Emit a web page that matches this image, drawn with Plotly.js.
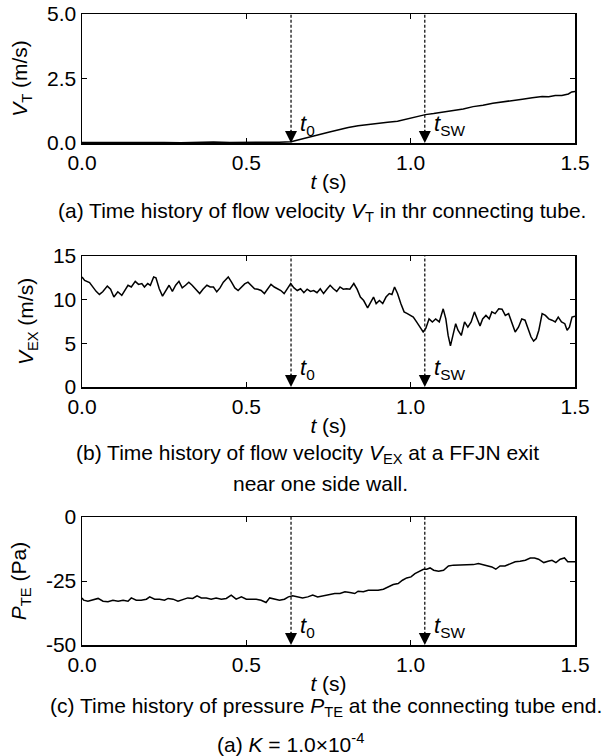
<!DOCTYPE html>
<html>
<head>
<meta charset="utf-8">
<script src="https://cdn.plot.ly/plotly-3.0.1.min.js"></script>
<style>html,body{margin:0;padding:0;background:#fff;}#chart{width:604px;height:756px;}</style>
</head>
<body>
<div id="chart"></div>
<script>
// ---------- data ----------
const tAxisTicks = [0, 0.5, 1.0, 1.5];
const tAxisLabels = ['0.0', '0.5', '1.0', '1.5'];
const t0 = 0.636;
const tSW = 1.043;

// (a) V_T in connecting tube
const tVT = [0, 0.05, 0.1, 0.15, 0.2, 0.25, 0.3, 0.35, 0.4, 0.45, 0.5, 0.55, 0.6, 0.636, 0.66, 0.69, 0.72, 0.75, 0.78, 0.81, 0.84, 0.87, 0.9, 0.93, 0.96, 0.99, 1.02, 1.045, 1.07, 1.1, 1.13, 1.16, 1.19, 1.22, 1.25, 1.28, 1.31, 1.34, 1.37, 1.4, 1.42, 1.44, 1.46, 1.48, 1.49, 1.5];
const vT  = [0.02, 0.02, 0.02, 0.02, 0.04, 0.02, 0.01, 0.02, 0.04, 0.02, 0.02, 0.02, 0.03, 0.05, 0.12, 0.22, 0.32, 0.42, 0.52, 0.6, 0.67, 0.72, 0.77, 0.8, 0.84, 0.93, 1.02, 1.1, 1.14, 1.2, 1.27, 1.32, 1.41, 1.46, 1.54, 1.6, 1.66, 1.7, 1.75, 1.8, 1.79, 1.84, 1.84, 1.9, 1.98, 2.0];
const vTTicks = [0, 2.5, 5];
const vTLabels = ['0.0', '2.5', '5.0'];

// (b) V_EX at FFJN exit
const tVEX = [0.000, 0.008, 0.023, 0.033, 0.043, 0.053, 0.063, 0.077, 0.087, 0.097, 0.109, 0.121, 0.129, 0.140, 0.150, 0.162, 0.172, 0.182, 0.190, 0.200, 0.208, 0.218, 0.225, 0.235, 0.245, 0.255, 0.265, 0.275, 0.285, 0.295, 0.305, 0.315, 0.325, 0.335, 0.345, 0.358, 0.368, 0.380, 0.390, 0.400, 0.410, 0.420, 0.430, 0.445, 0.455, 0.465, 0.475, 0.485, 0.495, 0.505, 0.515, 0.525, 0.535, 0.545, 0.555, 0.565, 0.575, 0.585, 0.595, 0.605, 0.615, 0.625, 0.635, 0.645, 0.655, 0.665, 0.675, 0.685, 0.695, 0.705, 0.715, 0.725, 0.735, 0.745, 0.755, 0.765, 0.775, 0.785, 0.795, 0.805, 0.815, 0.827, 0.837, 0.847, 0.857, 0.869, 0.879, 0.887, 0.895, 0.905, 0.915, 0.925, 0.935, 0.943, 0.951, 0.960, 0.970, 0.980, 0.990, 1.000, 1.008, 1.018, 1.028, 1.038, 1.046, 1.056, 1.066, 1.076, 1.087, 1.099, 1.107, 1.114, 1.121, 1.129, 1.137, 1.144, 1.154, 1.164, 1.174, 1.184, 1.194, 1.204, 1.211, 1.219, 1.229, 1.239, 1.247, 1.257, 1.268, 1.278, 1.288, 1.298, 1.308, 1.318, 1.328, 1.338, 1.348, 1.358, 1.366, 1.374, 1.382, 1.390, 1.400, 1.410, 1.420, 1.430, 1.440, 1.449, 1.459, 1.469, 1.476, 1.483, 1.491, 1.500];
const vEX  = [12.6, 12.2, 11.95, 11.45, 10.95, 10.6, 10.9, 11.55, 11.2, 10.3, 10.9, 10.5, 10.95, 11.65, 11.45, 12.1, 11.75, 11.85, 11.45, 11.85, 11.65, 12.6, 12.5, 11.25, 10.4, 11.05, 11.65, 10.95, 11.65, 12.1, 11.35, 11.65, 12.0, 11.65, 11.2, 10.7, 11.2, 11.65, 11.45, 11.45, 10.9, 11.35, 12.0, 12.6, 12.0, 11.35, 11.05, 11.45, 11.8, 12.0, 11.65, 11.25, 11.2, 11.05, 10.7, 11.2, 11.75, 11.45, 11.25, 11.05, 10.7, 11.25, 11.85, 11.35, 11.05, 11.25, 10.8, 11.2, 10.95, 11.05, 10.8, 11.25, 10.7, 11.2, 11.65, 11.25, 10.95, 11.45, 11.2, 11.25, 11.2, 11.85, 11.2, 10.3, 9.9, 9.05, 9.75, 10.3, 9.55, 9.9, 9.55, 10.3, 10.7, 10.6, 11.45, 10.7, 9.55, 8.6, 8.4, 8.15, 8.0, 7.45, 6.85, 6.3, 6.7, 7.8, 7.45, 7.8, 7.45, 8.95, 7.8, 5.9, 4.7, 5.9, 7.25, 6.5, 5.9, 7.45, 6.85, 7.45, 8.6, 7.65, 7.0, 7.8, 8.2, 7.8, 8.6, 8.4, 8.95, 8.9, 8.2, 8.4, 7.45, 6.3, 6.85, 7.8, 7.65, 6.7, 5.75, 5.25, 5.55, 6.5, 8.4, 8.2, 7.8, 7.65, 7.45, 8.0, 7.45, 7.25, 6.5, 6.85, 8.0, 8.1];
const vEXTicks = [0, 5, 10, 15];
const vEXLabels = ['0', '5', '10', '15'];

// (c) P_TE at connecting tube end
const tPTE = [0.000, 0.005, 0.018, 0.033, 0.049, 0.064, 0.079, 0.094, 0.110, 0.125, 0.140, 0.150, 0.165, 0.180, 0.196, 0.206, 0.221, 0.236, 0.251, 0.262, 0.277, 0.292, 0.307, 0.322, 0.337, 0.350, 0.363, 0.378, 0.393, 0.408, 0.424, 0.439, 0.454, 0.469, 0.485, 0.500, 0.515, 0.530, 0.545, 0.560, 0.571, 0.586, 0.601, 0.616, 0.628, 0.641, 0.656, 0.671, 0.687, 0.702, 0.717, 0.732, 0.746, 0.754, 0.769, 0.785, 0.800, 0.815, 0.830, 0.840, 0.856, 0.871, 0.886, 0.901, 0.917, 0.932, 0.947, 0.962, 0.975, 0.988, 1.001, 1.013, 1.026, 1.039, 1.049, 1.059, 1.070, 1.085, 1.100, 1.115, 1.130, 1.146, 1.161, 1.176, 1.191, 1.206, 1.222, 1.237, 1.247, 1.259, 1.272, 1.287, 1.303, 1.318, 1.333, 1.349, 1.364, 1.377, 1.389, 1.405, 1.418, 1.430, 1.442, 1.455, 1.468, 1.478, 1.488, 1.500];
const pTE  = [-31.6, -32.5, -32.9, -32.5, -31.8, -32.9, -33.1, -32.5, -32.9, -32.5, -32.9, -31.6, -32.5, -32.5, -32.1, -31.2, -32.1, -32.1, -32.5, -31.8, -32.1, -32.9, -32.1, -31.6, -31.8, -30.8, -31.6, -31.6, -32.1, -31.6, -32.1, -31.8, -30.5, -32.1, -31.2, -32.1, -32.1, -32.1, -32.5, -33.4, -31.6, -32.1, -32.5, -32.1, -31.2, -30.8, -31.2, -31.6, -31.2, -30.5, -31.2, -30.8, -30.5, -30.3, -29.9, -29.9, -29.2, -29.5, -29.9, -29.0, -29.2, -28.6, -28.6, -28.6, -28.2, -27.3, -26.4, -26.0, -24.7, -23.8, -23.4, -22.1, -21.2, -20.4, -20.4, -19.9, -20.8, -21.2, -20.8, -19.1, -18.8, -18.8, -18.6, -18.8, -18.6, -18.2, -18.8, -19.1, -19.5, -20.4, -19.1, -19.1, -18.2, -17.5, -17.3, -16.9, -16.0, -16.0, -16.5, -17.8, -17.3, -16.9, -17.8, -16.5, -16.0, -17.5, -17.5, -17.5];
const pTETicks = [-50, -25, 0];
const pTELabels = ['-50', '-25', '0'];

// ---------- layout helpers ----------
const FONT = 'Arial, "Liberation Sans", sans-serif';
const W = 604, H = 756, ML = 82, MR = 29, MT = 14, MB = 111;
const PH = H - MT - MB, PW = W - ML - MR;
const py = p => (H - MB - p) / PH;   // pixel row -> paper y
const px = p => (p - ML) / PW;        // pixel column -> paper x

function xAxis(anchor) {
  return {
    anchor: anchor, range: [0, 1.5], tickvals: tAxisTicks, ticktext: tAxisLabels,
    ticks: 'inside', ticklen: 5, tickwidth: 1, tickcolor: '#000',
    showline: true, linecolor: '#000', linewidth: 1.5, mirror: 'ticks',
    showgrid: false, zeroline: false, fixedrange: true,
    tickfont: {family: FONT, size: 21, color: '#000'},
    title: {text: '<i>t</i> (s)', font: {family: FONT, size: 21, color: '#000'}, standoff: 1}
  };
}
function yAxis(anchor, domain, range, vals, labels, title) {
  return {
    anchor: anchor, domain: domain, range: range, tickvals: vals, ticktext: labels,
    ticks: 'inside', ticklen: 5, tickwidth: 1, tickcolor: '#000',
    showline: true, linecolor: '#000', linewidth: 1.5, mirror: 'ticks',
    showgrid: false, zeroline: false, fixedrange: true,
    tickfont: {family: FONT, size: 21, color: '#000'},
    title: {text: title, font: {family: FONT, size: 21, color: '#000'}, standoff: 13}
  };
}

const line = {color: '#000', width: 1.5};
const traces = [
  {x: tVT, y: vT, xaxis: 'x', yaxis: 'y', mode: 'lines', line: line, showlegend: false},
  {x: tVEX, y: vEX, xaxis: 'x2', yaxis: 'y2', mode: 'lines', line: line, showlegend: false},
  {x: tPTE, y: pTE, xaxis: 'x3', yaxis: 'y3', mode: 'lines', line: line, showlegend: false}
];

const panels = [
  {xr: 'x', yr: 'y', ymin: 0},
  {xr: 'x2', yr: 'y2', ymin: 0},
  {xr: 'x3', yr: 'y3', ymin: -50}
];
const markers = [
  {t: t0, label: '<i>t</i><sub>0</sub>'},
  {t: tSW, label: '<i>t</i><sub>SW</sub>'}
];

const shapes = [];
const annotations = [];
panels.forEach(p => {
  markers.forEach(m => {
    shapes.push({type: 'line', xref: p.xr, yref: p.yr + ' domain', x0: m.t, x1: m.t, y0: 0.08, y1: 1,
                 line: {color: '#000', width: 1.2, dash: '3px,2px'}});
    annotations.push({xref: p.xr, yref: p.yr, x: m.t, y: p.ymin, text: '', showarrow: true,
                      axref: 'pixel', ayref: 'pixel', ax: 0, ay: -14, arrowhead: 2, arrowsize: 1.6,
                      arrowwidth: 1.5, arrowcolor: '#000', standoff: 0});
    annotations.push({xref: p.xr, yref: p.yr, x: m.t, y: p.ymin, text: m.label, showarrow: false,
                      xanchor: 'left', yanchor: 'bottom', xshift: 7, yshift: 2,
                      font: {family: FONT, size: 22, color: '#000'}});
  });
});

const capFont = {family: FONT, size: 21, color: '#000'};
const captions = [
  {text: '(a) Time history of flow velocity <i>V</i><sub>T</sub> in thr connecting tube.', cx: 322, cy: 212},
  {text: '(b) Time history of flow velocity <i>V</i><sub>EX</sub> at a FFJN exit', cx: 307, cy: 454},
  {text: 'near one side wall.', cx: 320, cy: 483},
  {text: '(c) Time history of pressure <i>P</i><sub>TE</sub> at the connecting tube end.', cx: 326, cy: 707},
  {text: '(a) <i>K</i> = 1.0×10<sup>-4</sup>', cx: 290, cy: 743}
];
captions.forEach(c => annotations.push({xref: 'paper', yref: 'paper', x: px(c.cx), y: py(c.cy),
  xanchor: 'center', yanchor: 'middle', text: c.text, showarrow: false, font: capFont}));

const layout = {
  width: W, height: H, margin: {l: ML, r: MR, t: MT, b: MB},
  paper_bgcolor: '#fff', plot_bgcolor: '#fff', showlegend: false,
  font: {family: FONT, color: '#000'},
  xaxis: xAxis('y'), xaxis2: xAxis('y2'), xaxis3: xAxis('y3'),
  yaxis: yAxis('x', [py(143), py(14)], [0, 5], vTTicks, vTLabels, '<i>V</i><sub>T</sub> (m/s)'),
  yaxis2: yAxis('x2', [py(387), py(256)], [0, 15], vEXTicks, vEXLabels, '<i>V</i><sub>EX</sub> (m/s)'),
  yaxis3: yAxis('x3', [py(645), py(517)], [-50, 0], pTETicks, pTELabels, '<i>P</i><sub>TE</sub> (Pa)'),
  shapes: shapes, annotations: annotations
};

Plotly.newPlot('chart', traces, layout, {displayModeBar: false, staticPlot: true});
</script>
</body>
</html>
